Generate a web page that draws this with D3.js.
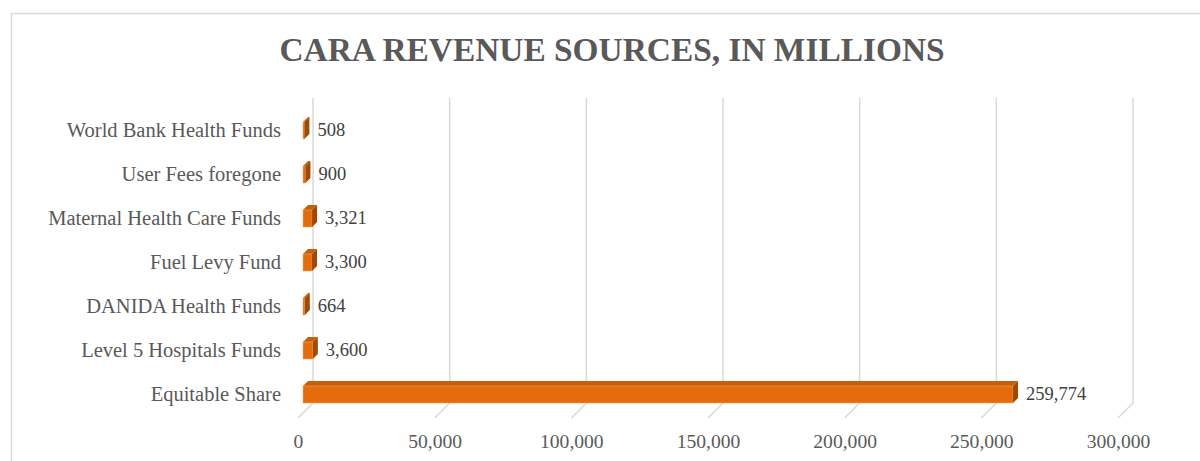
<!DOCTYPE html>
<html>
<head>
<meta charset="utf-8">
<script src="https://cdn.jsdelivr.net/npm/d3@7"></script>
<style>
  body { margin: 0; background: #fff; }
  svg text { font-family: "Liberation Serif", "Times New Roman", serif; }
</style>
</head>
<body>
<script>
// data, bottom to top as drawn
const categories = ["Equitable Share", "Level 5 Hospitals Funds", "DANIDA Health Funds",
  "Fuel Levy Fund", "Maternal Health Care Funds", "User Fees foregone", "World Bank Health Funds"];
const revenue = [259774, 3600, 664, 3300, 3321, 900, 508];
const xTicks = [0, 50000, 100000, 150000, 200000, 250000, 300000];

const w = 1200, h = 461;
const depth = 15;      // back wall offset of the gridlines
const bd = 5;          // 3d depth of bars
const fmt = d3.format(",");

const svg = d3.select("body").append("svg").attr("width", w).attr("height", h);

// chart frame
svg.append("rect").attr("x", 11.5).attr("y", 13.5).attr("width", 1200).attr("height", 460)
   .attr("fill", "#fff").attr("stroke", "#d9d9d9").attr("stroke-width", 1.5);

svg.append("text").text("CARA REVENUE SOURCES, IN MILLIONS")
   .attr("x", 612).attr("y", 61).attr("text-anchor", "middle")
   .attr("font-size", 33.4).attr("font-weight", "bold").attr("fill", "#595959");

// front scale (floor edge)
const x = d3.scaleLinear().domain([0, 300000]).range([298, 1118]);
const y = d3.scaleBand().domain(categories).range([416.5, 108.5]).paddingInner(0.614).paddingOuter(0.307);

const floorY = 418, wallBottom = 403, wallTop = 98;

// gridlines: back wall + diagonal on floor
const grid = svg.append("g");
xTicks.forEach(t => {
  grid.append("path")
    .attr("d", `M${x(t) + depth},${wallTop} L${x(t) + depth},${wallBottom} L${x(t)},${floorY}`)
    .attr("fill", "none").attr("stroke", "#d9d9d9").attr("stroke-width", 1.5);
});

// x tick labels
const xAxis = d3.axisBottom(x).tickValues(xTicks).tickFormat(fmt).tickSize(0).tickPadding(0);
const gx = svg.append("g").attr("transform", `translate(0,${448})`).call(xAxis);
gx.select(".domain").remove();
gx.selectAll("text").attr("font-size", 19.6).attr("fill", "#595959").attr("dy", 0);

// category labels
const yAxis = d3.axisLeft(y).tickSize(0).tickPadding(0);
const gy = svg.append("g").attr("transform", `translate(281,0)`).call(yAxis);
gy.select(".domain").remove();
gy.selectAll("text").attr("font-size", 20.5).attr("fill", "#595959").attr("dy", "0.32em");

// 3d bars
const x0 = 303;
const bx = v => x0 + (x(v) - x(0));
const bars = svg.append("g").selectAll("g").data(categories).join("g");
bars.each(function(c, i) {
  const g = d3.select(this);
  const top = y(c), bh = y.bandwidth();
  const x1 = bx(revenue[i]);
  // top face
  g.append("path")
    .attr("d", `M${x0},${top} L${x0 + bd},${top - bd} L${x1 + bd},${top - bd} L${x1},${top} Z`)
    .attr("fill", "#c45f0a");
  // front face
  g.append("rect").attr("x", x0).attr("y", top).attr("width", x1 - x0).attr("height", bh)
    .attr("fill", "#e46c0a").attr("stroke", "#f3a565").attr("stroke-width", 0.6);
  // end face
  g.append("path")
    .attr("d", `M${x1},${top} L${x1 + bd},${top - bd} L${x1 + bd},${top + bh - bd} L${x1},${top + bh} Z`)
    .attr("fill", "#9c4a06");
  // value label
  g.append("text").text(fmt(revenue[i]))
    .attr("x", x1 + bd + 8).attr("y", top + bh / 2 - 1).attr("dy", "0.35em")
    .attr("font-size", 18.5).attr("fill", "#404040");
});
</script>
</body>
</html>
